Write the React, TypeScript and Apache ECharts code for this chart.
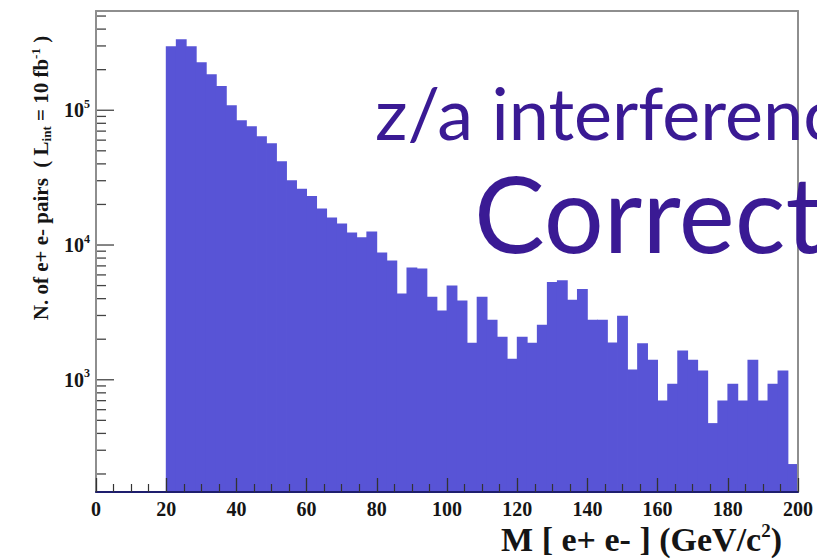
import React, { useEffect, useRef } from "react";
import * as echarts from "echarts";

// ---- axis ranges ----
const X_MIN = 0;
const X_MAX = 200;
const N_BINS = 70;
const Y_MIN = 147;
const Y_MAX = 545000;

// ---- x-axis tick labels ----
const xTickLabels = ["0", "20", "40", "60", "80", "100", "120", "140", "160", "180", "200"];

// ---- y-axis tick values ----
const yMajorTicks = [1000, 10000, 100000];
const yMinorTicks = [
  200, 300, 400, 500, 600, 700, 800, 900,
  2000, 3000, 4000, 5000, 6000, 7000, 8000, 9000,
  20000, 30000, 40000, 50000, 60000, 70000, 80000, 90000,
  200000, 300000, 400000, 500000,
];

// ---- histogram contents (70 bins from 0 to 200 GeV/c^2) ----
const counts = [
  0, 0, 0, 0, 0, 0, 0,
  299000, 337000, 298000, 227000, 185000, 151000, 109000, 84300, 76000, 64100,
  56800, 41800, 30200, 26100, 23100, 18700, 16000, 14450, 12400, 11400,
  12600, 8800, 7670, 4360, 6800, 6690, 4140, 3260, 5000, 3870,
  1880, 4140, 2790, 2090, 1430, 2090, 1880, 2560, 5310, 5470,
  3930, 4720, 2790, 2790, 1890, 2990, 1190, 1870, 1410, 702,
  934, 1650, 1410, 1170, 477, 702, 934, 702, 1410, 702,
  934, 1170, 237,
];

// ---- texts ----
const overlayLine1 = "z/a interference";
const overlayLine2 = "Correction";

const BAR_COLOR = "#5854d6";
const FRAME_COLOR = "#8e8e8e";
const TEXT_PURPLE = "#3a1a94";
const SERIF = "'Liberation Serif', 'DejaVu Serif', serif";

export default function App() {
  const ref = useRef<HTMLDivElement>(null);

  useEffect(() => {
    if (!ref.current) return;
    const chart = echarts.init(ref.current, null, { renderer: "svg" });
    const binW = (X_MAX - X_MIN) / N_BINS;
    const histData = counts
      .map((c, i) => [X_MIN + i * binW, X_MIN + (i + 1) * binW, c])
      .filter((d) => d[2] > 0);
    const tickData = [
      ...yMajorTicks.map((v) => [X_MIN, v, 1]),
      ...yMinorTicks.map((v) => [X_MIN, v, 0]),
    ];

    const option: any = {
      animation: false,
      backgroundColor: "#ffffff",
      grid: { left: 96, right: 19, top: 11, bottom: 68, outerBoundsMode: "none" },
      xAxis: [
        {
          type: "value",
          min: X_MIN,
          max: X_MAX,
          interval: 20,
          z: 10,
          axisLine: { onZero: false, lineStyle: { color: "#1e1e6e", width: 2 } },
          axisTick: { inside: true, length: 14, lineStyle: { color: "#333", width: 1.3 } },
          minorTick: { show: true, splitNumber: 4, length: 8, lineStyle: { color: "#333", width: 1.2 } },
          splitLine: { show: false },
          minorSplitLine: { show: false },
          axisLabel: {
            margin: 7,
            fontFamily: SERIF,
            fontWeight: "bold",
            fontSize: 20,
            color: "#151515",
            formatter: (v: number) => xTickLabels[Math.round(v / 20)] ?? "",
          },
        },
        {
          type: "value",
          position: "top",
          min: X_MIN,
          max: X_MAX,
          z: 10,
          axisLine: { onZero: false, lineStyle: { color: FRAME_COLOR, width: 2 } },
          axisTick: { show: false },
          axisLabel: { show: false },
          splitLine: { show: false },
        },
      ],
      yAxis: [
        {
          type: "log",
          logBase: 10,
          min: Y_MIN,
          max: Y_MAX,
          z: 10,
          axisLine: { onZero: false, lineStyle: { color: FRAME_COLOR, width: 2 } },
          axisTick: { show: false },
          splitLine: { show: false },
          axisLabel: {
            margin: 6,
            showMinLabel: false,
            showMaxLabel: false,
            formatter: (v: number) => `{b|10}{s|${Math.round(Math.log10(v))}}`,
            rich: {
              b: { fontFamily: SERIF, fontWeight: "bold", fontSize: 20, color: "#151515" },
              s: { fontFamily: SERIF, fontWeight: "bold", fontSize: 12, color: "#151515", padding: [0, 0, 13, 0] },
            },
          },
        },
        {
          type: "value",
          position: "right",
          min: 0,
          max: 1,
          z: 10,
          axisLine: { show: true, onZero: false, lineStyle: { color: FRAME_COLOR, width: 2 } },
          axisTick: { show: false },
          axisLabel: { show: false },
          splitLine: { show: false },
        },
      ],
      series: [
        {
          type: "custom",
          xAxisIndex: 0,
          yAxisIndex: 0,
          z: 2,
          encode: { x: [0, 1], y: 2 },
          data: histData,
          renderItem: (params: any, api: any) => {
            const x0 = api.value(0);
            const x1 = api.value(1);
            const c = api.value(2);
            const pTop = api.coord([x0, c]);
            const pBot = api.coord([x1, Y_MIN]);
            return {
              type: "rect",
              shape: {
                x: pTop[0] - 0.4,
                y: pTop[1],
                width: pBot[0] - pTop[0] + 0.8,
                height: pBot[1] - pTop[1],
              },
              style: { fill: BAR_COLOR },
            };
          },
        },
        {
          type: "custom",
          xAxisIndex: 0,
          yAxisIndex: 0,
          z: 6,
          encode: { x: 0, y: 1 },
          data: tickData,
          renderItem: (params: any, api: any) => {
            const v = api.value(1);
            const major = api.value(2);
            const p = api.coord([X_MIN, v]);
            const len = major ? 18 : 10;
            return {
              type: "line",
              shape: { x1: p[0], y1: p[1], x2: p[0] + len, y2: p[1] },
              style: { stroke: "#444", lineWidth: 1.3 },
            };
          },
        },
      ],
      graphic: [
        {
          type: "text",
          x: 41,
          y: 178,
          rotation: Math.PI / 2,
          style: {
            text: "{b|N. of e+ e- pairs  ( L}{sub|int}{b| = 10 fb}{sup|-1}{b| )}",
            align: "center",
            verticalAlign: "middle",
            rich: {
              b: { fontFamily: SERIF, fontWeight: "bold", fontSize: 21, fill: "#151515" },
              sub: { fontFamily: SERIF, fontWeight: "bold", fontSize: 13, fill: "#151515", padding: [11, 0, 0, 0] },
              sup: { fontFamily: SERIF, fontWeight: "bold", fontSize: 13, fill: "#151515", padding: [0, 0, 12, 0] },
            },
          },
        },
        {
          type: "text",
          x: 782,
          y: 539,
          style: {
            text: "{b|M [ e+ e- ] (GeV/c}{sup|2}{b|)}",
            align: "right",
            verticalAlign: "middle",
            rich: {
              b: { fontFamily: SERIF, fontWeight: "bold", fontSize: 34, fill: "#151515" },
              sup: { fontFamily: SERIF, fontWeight: "bold", fontSize: 19, fill: "#151515", padding: [0, 0, 18, 0] },
            },
          },
        },
        {
          type: "text",
          x: 375,
          y: 112,
          z: 20,
          style: {
            text: overlayLine1,
            fontFamily: "Lato",
            fontSize: 72,
            fill: TEXT_PURPLE,
            align: "left",
            verticalAlign: "middle",
          },
        },
        {
          type: "text",
          x: 474,
          y: 212,
          z: 20,
          style: {
            text: overlayLine2,
            fontFamily: "Lato",
            fontSize: 106,
            fill: TEXT_PURPLE,
            align: "left",
            verticalAlign: "middle",
          },
        },
      ],
    };
    chart.setOption(option);
    return () => chart.dispose();
  }, []);

  return (
    <div
      ref={ref}
      style={{ position: "fixed", left: 0, top: 0, width: 817, height: 560, background: "#fff" }}
    />
  );
}
